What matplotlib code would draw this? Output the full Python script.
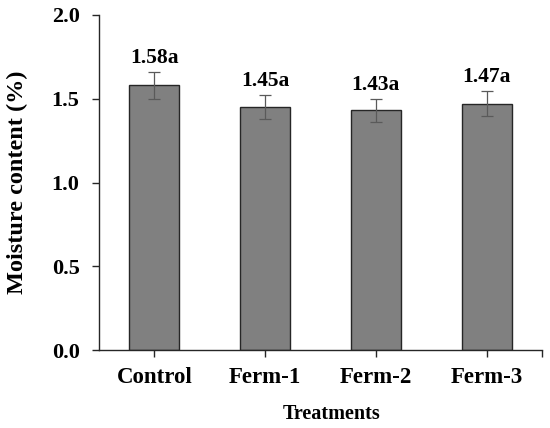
import matplotlib
matplotlib.use("Agg")
import matplotlib.pyplot as plt
import numpy as np

treatments = ["Control", "Ferm-1", "Ferm-2", "Ferm-3"]
moisture = [1.58, 1.45, 1.43, 1.47]
moisture_err = [0.08, 0.07, 0.07, 0.075]
letters = ["a", "a", "a", "a"]

plt.rcParams["font.family"] = ["Liberation Serif", "DejaVu Serif"]
plt.rcParams["font.weight"] = "bold"

fig = plt.figure(figsize=(5.5, 4.28), dpi=100)
ax = fig.add_axes([0.18, 0.182, 0.8055, 0.783])

x = np.arange(len(treatments))
ax.bar(x, moisture, width=0.45, color="#808080", edgecolor="#262626", linewidth=1.0,
       yerr=moisture_err, capsize=4.5,
       error_kw=dict(ecolor="#5a5a5a", elinewidth=0.9, capthick=0.9))

for xi, v, e, l in zip(x, moisture, moisture_err, letters):
    ax.annotate(f"{v:.2f}{l}", (xi, v + e), xytext=(0, 3), textcoords="offset points",
                ha="center", va="bottom", fontsize=15.5, fontweight="bold")

ax.set_xlim(-0.5, 3.5)
ax.set_ylim(0, 2.0)
ax.set_yticks([0.0, 0.5, 1.0, 1.5, 2.0])
ax.set_yticklabels([f"{t:.1f}" for t in [0.0, 0.5, 1.0, 1.5, 2.0]])
ax.set_xticks(x)
ax.set_xticklabels(treatments)
ax.set_xticks([3.5], minor=True)

for s in ["top", "right"]:
    ax.spines[s].set_visible(False)
for s in ["left", "bottom"]:
    ax.spines[s].set_linewidth(1.0)
    ax.spines[s].set_color("#262626")

ax.tick_params(axis="both", which="both", direction="out", length=5, width=1.0,
               color="#262626", labelsize=16)
ax.tick_params(axis="x", labelsize=16.5, pad=7)
ax.tick_params(axis="y", pad=9)

ax.set_xlabel("Treatments", fontsize=14.5, fontweight="bold", va="top")
ax.xaxis.set_label_coords(0.524, -0.162)
ax.set_ylabel("Moisture content (%)", fontsize=17.5, fontweight="bold")
ax.yaxis.set_label_coords(-0.16, 0.5)

fig.savefig("out.png", dpi=100)
